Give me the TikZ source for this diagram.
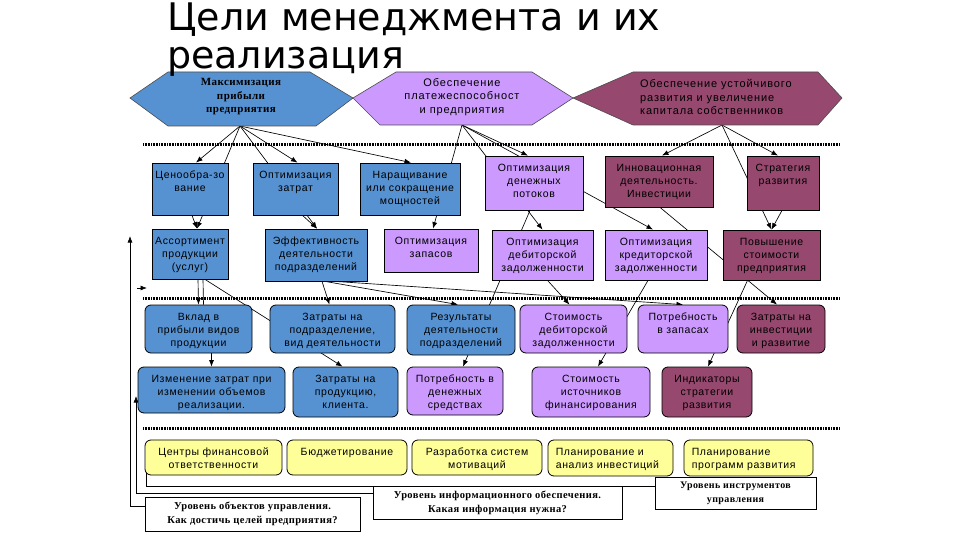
\documentclass[tikz,border=0pt]{standalone}
\usepackage{fontspec}
\setmainfont{Liberation Sans}
\newfontfamily\boxfont{Liberation Sans}[LetterSpace=6]
\newfontfamily\hexfont{Liberation Sans}[LetterSpace=8]
\newfontfamily\serbold{Liberation Serif}[LetterSpace=4]
\newfontfamily\ttlfont{DejaVu Sans}
\usetikzlibrary{arrows.meta,fit}
\pgfdeclarelayer{back}
\pgfdeclarelayer{bg}
\pgfsetlayers{back,bg,main}
\definecolor{blueF}{RGB}{86,146,210}
\definecolor{lilacF}{RGB}{204,153,255}
\definecolor{mauveF}{RGB}{150,72,110}
\definecolor{yellowF}{RGB}{255,255,153}
\newcommand\mkbox[5]{%
  \node[#2, fit={#3 #4}] (#1) {};
  \node[txt, anchor=north] (#1t) at ([yshift=-8pt]#1.north) {#5};}
\begin{document}
\begin{tikzpicture}[x=1pt,y=-1pt,
  bx/.style={draw=black, line width=0.8pt, inner sep=0pt},
  bluebox/.style={bx, fill=blueF},
  lilacbox/.style={bx, fill=lilacF},
  mauvebox/.style={bx, fill=mauveF},
  rblue/.style={bluebox, rounded corners=6pt},
  rlilac/.style={lilacbox, rounded corners=6pt},
  rmauve/.style={mauvebox, rounded corners=6pt},
  ryellow/.style={bx, fill=yellowF, rounded corners=6pt},
  legbox/.style={bx, fill=white},
  txt/.style={inner sep=0pt, align=center, font=\boxfont\fontsize{10.5}{13}\selectfont},
  legtxt/.style={inner sep=0pt, align=center, font=\serbold\bfseries\fontsize{10.5}{14}\selectfont},
  hexst/.style={draw=black!70, line width=0.6pt},
  conn/.style={draw=black, line width=0.65pt, -{Latex[length=6.5pt,width=5pt]}},
  plain/.style={draw=black, line width=0.65pt},
  dotsep/.style={draw=black, line width=3pt, dash pattern=on 0.8pt off 0.8pt}
]
\begin{pgfonlayer}{back}
\fill[white] (0,0) rectangle (960,540);
\end{pgfonlayer}
\useasboundingbox (0,0) rectangle (960,540);

% hexagons
\draw[hexst, fill=blueF] (130,98) -- (168,72) -- (310,72) -- (353,98) -- (316,126) -- (168,126) -- cycle;
\draw[hexst, fill=lilacF] (353,98) -- (396,72) -- (532,72) -- (573,98) -- (532,125) -- (380,125) -- cycle;
\draw[hexst, fill=mauveF] (573,98) -- (633,72) -- (818,72) -- (842,98) -- (818,125) -- (633,125) -- cycle;
\node[inner sep=0pt, align=center, font=\serbold\bfseries\fontsize{11}{13.5}\selectfont] (hA) at (241,97) {Максимизация\\прибыли\\предприятия};
\node[inner sep=0pt, align=center, font=\hexfont\fontsize{11}{13.5}\selectfont] (hB) at (462,97) {Обеспечение\\платежеспособност\\и предприятия};
\node[inner sep=0pt, align=left, anchor=west, font=\hexfont\fontsize{11}{13.5}\selectfont] (hC) at (640,97) {Обеспечение устойчивого\\развития и увеличение\\капитала собственников};
\coordinate (fanA) at (240,126);
\coordinate (fanB) at (462,125);
\coordinate (fanC) at (722,125);

% row 1
\mkbox{c1}{bluebox}{(152,163)}{(228,215)}{Ценообра-зо\\вание}
\mkbox{c2}{bluebox}{(253,163)}{(338,215)}{Оптимизация\\затрат}
\mkbox{c3}{bluebox}{(360,163)}{(460,215)}{Наращивание\\или  сокращение\\мощностей}
\mkbox{c4}{lilacbox}{(485,156)}{(583,210)}{Оптимизация\\денежных\\потоков}
\mkbox{c5}{mauvebox}{(605,156)}{(713,207)}{Инновационная\\деятельность.\\Инвестиции}
\mkbox{c6}{mauvebox}{(747,156)}{(819,210)}{Стратегия\\развития}
% row 2
\mkbox{d1}{bluebox}{(152,229)}{(228,279)}{Ассортимент\\продукции\\(услуг)}
\mkbox{d2}{bluebox}{(265,229)}{(367,281)}{Эффективность\\деятельности\\подразделений}
\mkbox{d3}{lilacbox}{(384,229)}{(478,272)}{Оптимизация\\запасов}
\mkbox{d4}{lilacbox}{(492,230)}{(593,280)}{Оптимизация\\дебиторской\\задолженности}
\mkbox{d5}{lilacbox}{(605,230)}{(707,280)}{Оптимизация\\кредиторской\\задолженности}
\mkbox{d6}{mauvebox}{(723,230)}{(820,280)}{Повышение\\стоимости\\предприятия}
% row 3
\mkbox{e1}{rblue}{(145,305)}{(252,353)}{Вклад в\\прибыли видов\\продукции}
\mkbox{e2}{rblue}{(270,305)}{(395,353)}{Затраты на\\подразделение,\\вид деятельности}
\mkbox{e3}{rblue}{(407,305)}{(515,355)}{Результаты\\деятельности\\подразделений}
\mkbox{e4}{rlilac}{(520,305)}{(627,353)}{Стоимость\\дебиторской\\задолженности}
\mkbox{e5}{rlilac}{(638,305)}{(728,353)}{Потребность\\в запасах}
\mkbox{e6}{rmauve}{(737,305)}{(825,353)}{Затраты на\\инвестиции\\и развитие}
% row 4
\mkbox{f1}{rblue}{(138,367)}{(285,413)}{Изменение затрат при\\изменении объемов\\реализации.}
\mkbox{f2}{rblue}{(293,367)}{(398,417)}{Затраты на\\продукцию,\\клиента.}
\mkbox{f3}{rlilac}{(407,367)}{(503,415)}{Потребность в\\денежных\\средствах}
\mkbox{f4}{rlilac}{(532,367)}{(650,417)}{Стоимость\\источников\\финансирования}
\mkbox{f5}{rmauve}{(662,367)}{(752,417)}{Индикаторы\\стратегии\\развития}
% row 5
\mkbox{g1}{ryellow}{(145,440)}{(282,475)}{Центры финансовой\\ответственности}
\mkbox{g2}{ryellow}{(287,440)}{(407,475)}{Бюджетирование}
\mkbox{g3}{ryellow}{(412,440)}{(542,475)}{Разработка систем\\мотиваций}
\node[ryellow, fit={(548,440) (673,476)}] (g4) {};
\node[txt, align=left, anchor=north west] (g4t) at ([xshift=8pt,yshift=-8pt]g4.north west) {Планирование  и\\анализ инвестиций};
\node[ryellow, fit={(684,440) (813,476)}] (g5) {};
\node[txt, align=left, anchor=north west] (g5t) at ([xshift=8pt,yshift=-8pt]g5.north west) {Планирование\\программ развития};

% legend boxes
\node[legbox, fit={(655,477) (816,509)}] (l3) {};
\node[legtxt, font=\serbold\bfseries\fontsize{10}{14}\selectfont] (l3t) at (l3.center) {Уровень инструментов\\управления};
\node[legbox, fit={(373,486) (622,519)}] (l2) {};
\node[legtxt] (l2t) at (l2.center) {Уровень информационного обеспечения.\\Какая информация нужна?};
\node[legbox, fit={(145,497) (360,531)}] (l1) {};
\node[legtxt] (l1t) at (l1.center) {Уровень объектов управления.\\Как  достичь целей предприятия?};

% title
\node[anchor=base west, inner sep=0pt, font=\ttlfont\fontsize{38}{40}\selectfont] (t1) at (167,31) {Цели менеджмента и их};
\node[anchor=base west, inner sep=0pt, font=\ttlfont\fontsize{38}{40}\selectfont] (t2) at (167,69) {реализация};

\coordinate (s1a) at (143,145); \coordinate (s1b) at (840,145);
\coordinate (s2a) at (143,298); \coordinate (s2b) at (840,298);
\coordinate (s3a) at (143,428); \coordinate (s3b) at (840,428);
\coordinate (ta) at (130,236);
\coordinate (tb) at (136,396);
\coordinate (tc) at (146,449);
\coordinate (td1) at (137,288);
\coordinate (td2) at (147,288);

\begin{pgfonlayer}{bg}
\draw[dotsep] (s1a) -- (s1b);
\draw[dotsep] (s2a) -- (s2b);
\draw[dotsep] (s3a) -- (s3b);
% from goals
\draw[conn] (fanA) -- ([xshift=6pt]c1.north);
\draw[conn] (fanA) -- ([xshift=7pt]d1.north);
\draw[conn] (fanA) -- ([xshift=2pt]c2.north);
\draw[conn] (fanA) -- ([xshift=1pt]d2.north);
\draw[conn] (fanA) -- ([xshift=1pt]c3.north);
\draw[conn] (fanB) -- ([xshift=-6pt]c4.north);
\draw[conn] (fanB) -- ([xshift=2pt]d3.north);
\draw[conn] (fanB) -- (d4.north);
\draw[conn] (fanB) -- ([xshift=-3pt]d5.north);
\draw[conn] (fanC) -- ([xshift=3pt]c5.north);
\draw[conn] (fanC) -- ([xshift=-5pt]c6.north);
\draw[conn] (fanC) -- (d6.north);
% row1 -> lower
\draw[conn] ([xshift=2pt]c1.south) -- ([xshift=7pt]d1.north);
\draw[conn] ([xshift=7pt]c2.south) -- ([xshift=1pt]d2.north);
\draw[conn] ([xshift=-4pt]c4.south) -- ([xshift=8pt]f3.north);
\draw[conn] ([xshift=1pt]c5.south) -- ([xshift=-4pt]e6.north);
\draw[conn] ([xshift=-1pt]c6.south) -- (d6.north);
% row2 -> lower
\draw[conn] ([xshift=8pt]d1.south) -- (e1.north);
\draw[plain] ([xshift=13pt]d1.south) -- ([xshift=5pt]e1.north);
\draw[conn] ([xshift=15pt]d1.south) -- ([xshift=-3pt]f2.north);
\draw[conn] ([xshift=6pt]d2.south) -- ([xshift=-3pt]e2.north);
\draw[conn] ([xshift=9pt]d2.south) -- ([xshift=-3pt]e3.north);
\draw[conn] ([xshift=19pt]d2.south) -- (e5.north);
\draw[conn] ([xshift=5pt]d4.south) -- ([xshift=-4pt]e4.north);
\draw[conn] ([xshift=-8pt]d5.south) -- ([xshift=7pt]f4.north);
\draw[conn] ([xshift=-24pt]d6.south) -- ([xshift=1pt]f5.north);
% row3 -> row4
\draw[conn] ([xshift=13pt]e1.south) -- (f1.north);
% legend brackets
\draw[conn] ([yshift=8pt]l1.west) -| (ta);
\draw[conn] ([yshift=9.5pt]l2.west) -| (tb);
\draw[plain] ([yshift=7pt]l3.west) -| (tc);
\draw[conn] (td1) -- (td2);
\end{pgfonlayer}
\end{tikzpicture}
\end{document}
